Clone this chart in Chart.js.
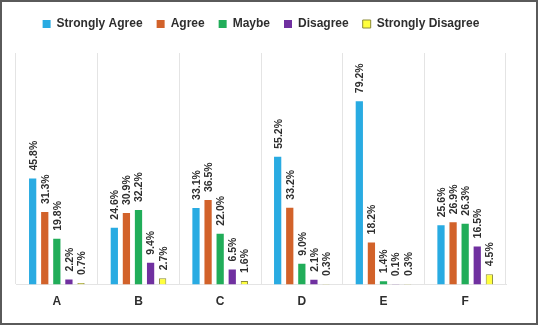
<!DOCTYPE html>
<html>
<head>
<meta charset="utf-8">
<script src="https://cdn.jsdelivr.net/npm/chart.js@4"></script>
<style>
  html, body { margin: 0; padding: 0; background: #fff; }
  #wrap { width: 538px; height: 325px; box-sizing: border-box; border: 2px solid #5a5a5a; position: relative; }
  #chart { display: block; }
</style>
</head>
<body>
<div id="wrap"><canvas id="chart" width="534" height="321"></canvas></div>
<script>
// --- data ---
const categories = ['A', 'B', 'C', 'D', 'E', 'F'];
const seriesNames = ['Strongly Agree', 'Agree', 'Maybe', 'Disagree', 'Strongly Disagree'];
const stronglyAgree = [45.8, 24.6, 33.1, 55.2, 79.2, 25.6];
const agree = [31.3, 30.9, 36.5, 33.2, 18.2, 26.9];
const maybe = [19.8, 32.2, 22.0, 9.0, 1.4, 26.3];
const disagree = [2.2, 9.4, 6.5, 2.1, 0.1, 16.5];
const stronglyDisagree = [0.7, 2.7, 1.6, 0.3, 0.3, 4.5];

const fills = ['#29abe2', '#d2622a', '#21ad59', '#7030a0', '#ffff3c'];
const borders = ['#29abe2', '#d2622a', '#21ad59', '#7030a0', '#8c8c38'];
const textColor = '#2e2e2e';
const fontFamily = '"Liberation Sans", Arial, sans-serif';

// rotated value labels above each bar
const valueLabels = {
    id: 'valueLabels',
    afterDatasetsDraw(chart) {
        const ctx = chart.ctx;
        ctx.save();
        ctx.font = 'bold 10.5px ' + fontFamily;
        ctx.fillStyle = textColor;
        ctx.textAlign = 'left';
        ctx.textBaseline = 'middle';
        chart.data.datasets.forEach((ds, i) => {
            chart.getDatasetMeta(i).data.forEach((bar, j) => {
                ctx.save();
                ctx.translate(bar.x + 1, bar.y - 8);
                ctx.rotate(-Math.PI / 2);
                ctx.fillText(ds.data[j].toFixed(1) + '%', 0, 0);
                ctx.restore();
            });
        });
        ctx.restore();
    }
};

// extra room under the legend
const legendGap = {
    id: 'legendGap',
    beforeInit(chart) {
        const fit = chart.legend.fit;
        chart.legend.fit = function () {
            fit.bind(chart.legend)();
            this.height += 13;
        };
    }
};

const series = [stronglyAgree, agree, maybe, disagree, stronglyDisagree];

new Chart(document.getElementById('chart'), {
    type: 'bar',
    data: {
        labels: categories,
        datasets: series.map((d, i) => ({
            label: seriesNames[i],
            data: d,
            backgroundColor: fills[i],
            borderColor: borders[i],
            borderWidth: i === 4 ? 1 : 0,
            categoryPercentage: 0.74,
            barPercentage: 0.6
        }))
    },
    options: {
        responsive: false,
        animation: false,
        layout: { padding: { left: 14, right: 30, top: 2, bottom: 4 } },
        plugins: {
            legend: {
                position: 'top',
                labels: {
                    boxWidth: 8,
                    boxHeight: 8,
                    padding: 14,
                    color: textColor,
                    font: { family: fontFamily, size: 12, weight: 'bold' }
                }
            },
            tooltip: { enabled: false }
        },
        scales: {
            x: {
                grid: { color: '#e4e4e4', drawTicks: false, offset: true },
                border: { color: '#e4e4e4' },
                ticks: { color: textColor, padding: 10, font: { family: fontFamily, size: 12, weight: 'bold' } }
            },
            y: {
                display: false,
                min: 0,
                max: 100
            }
        }
    },
    plugins: [valueLabels, legendGap]
});
</script>
</body>
</html>
